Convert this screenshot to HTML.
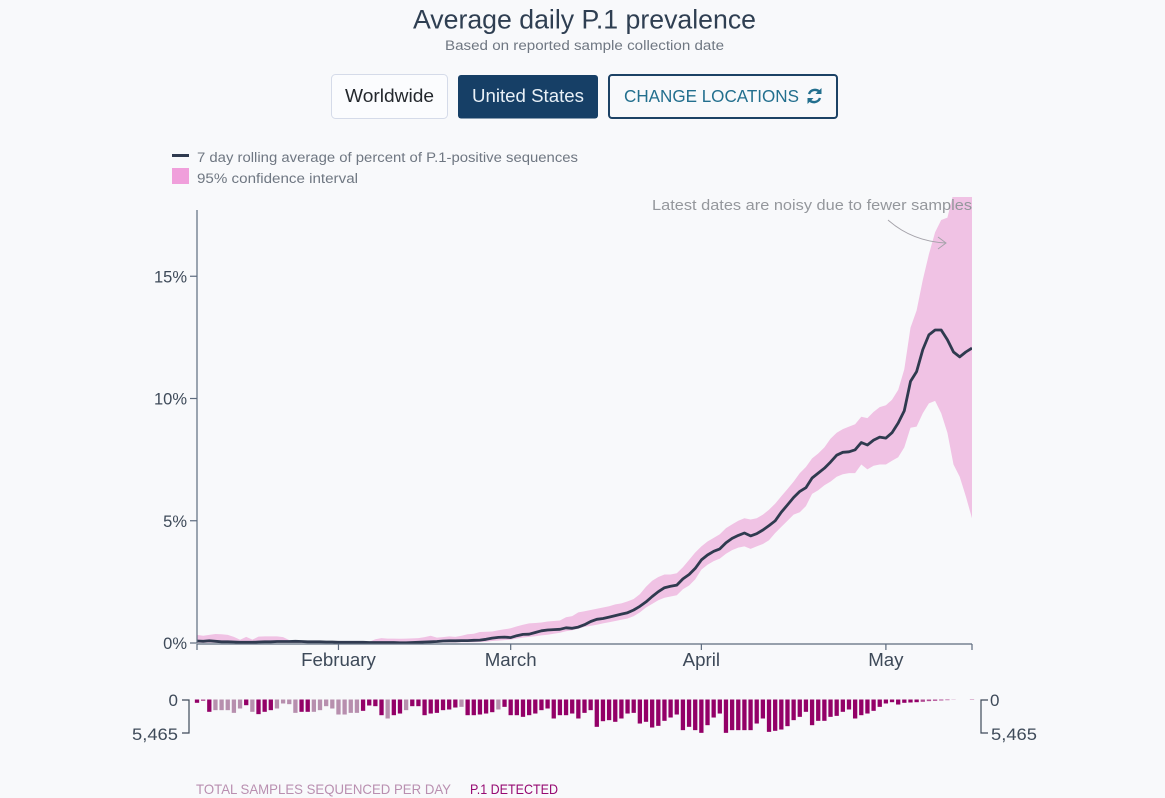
<!DOCTYPE html>
<html lang="en">
<head>
<meta charset="utf-8">
<title>Average daily P.1 prevalence</title>
<style>
html,body{margin:0;padding:0;background:#f8f9fb;}
body{width:1165px;height:798px;overflow:hidden;position:relative;font-family:"Liberation Sans",sans-serif;}
svg{position:absolute;left:0;top:0;display:block;}
text{font-family:"Liberation Sans",sans-serif;}
</style>
</head>
<body>
<svg id="chart" width="1165" height="798" viewBox="0 0 1165 798" xmlns="http://www.w3.org/2000/svg">
  <defs><clipPath id="plot-clip"><rect x="190" y="197" width="782" height="460"/></clipPath></defs>

  <text x="413" y="28.5" font-size="27" fill="#2f3f52" textLength="343" lengthAdjust="spacingAndGlyphs">Average daily P.1 prevalence</text>
  <text x="445" y="50" font-size="13.5" fill="#6f7782" textLength="279" lengthAdjust="spacingAndGlyphs">Based on reported sample collection date</text>

  <g>
    <rect x="331.5" y="74.5" width="116" height="44" rx="4" fill="#fbfcfe" stroke="#d5dbe9"/>
    <text x="345" y="102" font-size="18" fill="#23272c" textLength="89" lengthAdjust="spacingAndGlyphs">Worldwide</text>
  </g>
  <g>
    <rect x="458" y="75" width="140" height="43.5" rx="3" fill="#163f66"/>
    <text x="472" y="102" font-size="18" fill="#e8f0f7" textLength="112" lengthAdjust="spacingAndGlyphs">United States</text>
  </g>
  <g>
    <rect x="609" y="75" width="228" height="43" rx="3" fill="#f8f9fb" stroke="#1c4265" stroke-width="2"/>
    <text x="624" y="102" font-size="17.5" fill="#226f8e" textLength="175" lengthAdjust="spacingAndGlyphs">CHANGE LOCATIONS</text>
    <g fill="none" stroke="#226f8e" stroke-width="2.4">
      <path d="M809 94 a6.3 6.3 0 0 1 11 -1.5"/>
      <path d="M820 98 a6.3 6.3 0 0 1 -11 1.5"/>
      <path d="M821.5 88 v6 h-6 z" fill="#226f8e" stroke="none"/>
      <path d="M807.5 104 v-6 h6 z" fill="#226f8e" stroke="none"/>
    </g>
  </g>

  <g>
    <rect x="172" y="154" width="17" height="3" fill="#2f3a4f"/>
    <text x="197" y="162" font-size="13.5" fill="#6f7782" textLength="381" lengthAdjust="spacingAndGlyphs">7 day rolling average of percent of P.1-positive sequences</text>
    <rect x="172" y="168" width="17" height="16" fill="#f09fdb"/>
    <text x="197" y="183" font-size="13.5" fill="#6f7782" textLength="161" lengthAdjust="spacingAndGlyphs">95% confidence interval</text>
  </g>

  <g id="plot" clip-path="url(#plot-clip)"></g>
  <g id="axes"></g>
  <g id="bars"></g>

  <text x="652" y="210" font-size="15" fill="#94979c" textLength="320" lengthAdjust="spacingAndGlyphs">Latest dates are noisy due to fewer samples</text>
  <g fill="none" stroke="#a5a3aa" stroke-width="1">
    <path d="M888 220 C905 235 925 242 946 243"/>
    <path d="M938 237 L946 243 L938 249"/>
  </g>

  <g fill="none" stroke="#3e4a59" stroke-width="1.2">
    <path d="M182 700 H189 V733 H182"/>
  </g>
  <text x="178" y="706" font-size="17" fill="#3e4a59" text-anchor="end">0</text>
  <text x="132" y="740" font-size="17" fill="#3e4a59" textLength="46" lengthAdjust="spacingAndGlyphs">5,465</text>
  <g fill="none" stroke="#3e4a59" stroke-width="1.2">
    <path d="M988 700 H981 V733 H988"/>
  </g>
  <text x="990" y="706" font-size="17" fill="#3e4a59">0</text>
  <text x="991" y="740" font-size="17" fill="#3e4a59" textLength="46" lengthAdjust="spacingAndGlyphs">5,465</text>

  <text x="196" y="794" font-size="14" fill="#b98fb0" textLength="255" lengthAdjust="spacingAndGlyphs">TOTAL SAMPLES SEQUENCED PER DAY</text>
  <text x="470" y="794" font-size="14" fill="#960a72" textLength="88" lengthAdjust="spacingAndGlyphs">P.1 DETECTED</text>
</svg>

<script>
// Daily values, one per day starting 9 January
const meanPct = [
 .08,.07,.09,.07,.05,.05,.04,.03,.03,.03,
 .04,.05,.05,.06,.06,.06,.07,.06,.05,.05,
 .05,.04,.04,.03,.03,.03,.03,.03,.02,.02,
 .02,.02,.02,.01,.01,.02,.03,.04,.05,.06,
 .08,.09,.09,.10,.10,.11,.12,.15,.20,.23,
 .24,.22,.30,.35,.36,.43,.50,.53,.55,.56,
 .62,.60,.65,.75,.88,.97,1.0,1.06,1.12,1.18,
 1.24,1.35,1.5,1.68,1.9,2.1,2.26,2.32,2.37,2.62,
 2.8,3.05,3.4,3.6,3.75,3.85,4.1,4.28,4.4,4.5,
 4.38,4.47,4.62,4.8,5.0,5.35,5.65,5.95,6.2,6.35,
 6.75,6.95,7.15,7.4,7.68,7.8,7.82,7.9,8.2,8.1,
 8.3,8.42,8.38,8.6,9.0,9.5,10.7,11.1,12.0,12.6,
 12.8,12.8,12.4,11.9,11.7,11.9,12.06
];
const upperPct = [
 .33,.30,.33,.37,.36,.33,.25,.13,.25,.14,
 .26,.27,.27,.27,.24,.12,.10,.09,.09,.08,
 .08,.08,.08,.07,.07,.06,.06,.05,.05,.15,
 .20,.18,.18,.17,.18,.19,.20,.24,.30,.22,
 .24,.27,.25,.30,.36,.38,.45,.46,.47,.52,
 .56,.60,.68,.75,.80,.82,.84,.88,.90,.92,
 1.05,1.1,1.25,1.3,1.35,1.4,1.45,1.5,1.58,1.62,
 1.7,1.8,2.0,2.3,2.55,2.7,2.8,2.8,2.85,3.1,
 3.4,3.7,3.95,4.15,4.3,4.45,4.7,4.85,5.0,5.1,
 5.05,5.1,5.25,5.45,5.7,6.0,6.3,6.6,6.95,7.2,
 7.55,7.75,8.0,8.35,8.6,8.75,8.85,8.95,9.25,9.2,
 9.45,9.65,9.72,9.95,10.35,11.2,12.9,13.6,14.85,15.9,
 16.8,17.3,17.4,18.4,19,19.5,19.8
];
const lowerPct = [
 .01,.01,.01,.01,.01,.01,.01,.01,.01,.01,
 .01,.01,.01,.01,.01,.01,.01,.01,.01,.01,
 .01,.01,.01,.01,.01,.01,.01,.01,.01,.01,
 .01,.01,.01,.01,.01,.01,.01,.01,.01,.01,
 .02,.02,.02,.03,.03,.03,.04,.05,.08,.10,
 .12,.13,.18,.22,.25,.28,.31,.34,.38,.42,
 .48,.52,.58,.66,.7,.75,.8,.85,.9,.95,
 1.0,1.1,1.25,1.45,1.6,1.75,1.85,1.9,1.95,2.2,
 2.35,2.6,3.0,3.2,3.35,3.45,3.65,3.8,3.9,3.95,
 3.85,3.95,4.05,4.2,4.5,4.75,5.0,5.25,5.35,5.6,
 6.1,6.25,6.45,6.6,6.8,6.9,6.95,6.95,7.3,7.1,
 7.25,7.3,7.3,7.45,7.6,8.0,8.8,8.85,9.4,9.8,
 9.9,9.4,8.6,7.3,6.8,6.0,5.1
];
const totalSamples = [
 540,220,2010,1740,1740,1740,2180,1470,930,2010,
 2390,2010,1740,1470,650,760,2180,2010,2010,2010,
 1740,1090,1470,2450,2450,2180,2180,1850,980,1090,
 2560,3100,2560,2290,1740,1090,1090,2560,2290,2180,
 1740,1630,1310,1200,2560,2560,2450,2290,2070,1630,
 1200,2560,2560,2830,2560,2290,1740,1470,3100,2560,
 2560,2290,3100,2180,1740,4460,3540,3370,3640,3100,
 2290,2180,3920,3640,4570,4300,3480,2940,2450,5000,
 4460,5000,5440,4190,2940,2290,5440,5000,5000,5000,
 5000,3920,3100,5280,5110,4900,4350,3370,2830,2010,
 4190,3480,3480,2830,2670,2010,1630,3100,2560,2290,
 1850,1200,650,440,820,540,490,440,380,270,
 220,160,110,30,0,0,60
];
const p1Detected = [
 1,1,2,0,0,0,0,0,1,0,
 1,1,1,0,0,0,0,1,1,0,
 0,0,0,0,0,0,0,1,1,1,
 1,0,1,1,0,1,1,1,2,2,
 2,2,2,0,3,3,3,4,4,0,
 3,6,8,10,9,10,9,8,17,14,
 16,14,20,16,15,43,35,36,41,37,
 28,29,59,61,87,90,79,68,58,131,
 125,153,185,151,110,88,223,214,220,225,
 219,175,143,253,256,262,246,201,175,128,
 283,242,249,209,205,157,127,245,210,185,
 154,101,54,38,74,51,52,49,46,34,
 28,20,14,3,0,0,7
];
const percentTicks = [0, 5, 10, 15];
const percentTickLabels = ['0%', '5%', '10%', '15%'];
const monthTickDays = [23, 51, 82, 112];
const monthTickLabels = ['February', 'March', 'April', 'May'];
const lastDay = 126;
const samplesMax = 5465;

const NS = 'http://www.w3.org/2000/svg';
const xScale = d => 197 + d * (972 - 197) / lastDay;
const yScale = p => 643 - p * 24.45;
const barScale = v => v * 33.5 / samplesMax;

function make(tag, attrs, parent) {
  const el = document.createElementNS(NS, tag);
  for (const k in attrs) el.setAttribute(k, attrs[k]);
  parent.appendChild(el);
  return el;
}

const plot = document.getElementById('plot');
const axes = document.getElementById('axes');
const bars = document.getElementById('bars');

// confidence band
const upperPts = upperPct.map((v, i) => xScale(i).toFixed(1) + ',' + yScale(v).toFixed(1));
const lowerPts = lowerPct.map((v, i) => xScale(i).toFixed(1) + ',' + yScale(v).toFixed(1)).reverse();
const band = make('polygon', {points: upperPts.concat(lowerPts).join(' '), fill: '#f0c2e4'}, plot);



// axes
const yLine = make('line', {x1: 197, x2: 197, y1: 210, y2: yScale(0), stroke: '#5d6b7e', 'stroke-width': 1.2}, axes);


const xLine = make('line', {x1: 197, x2: 972, y1: 644, y2: 644, stroke: '#5d6b7e', 'stroke-width': 1.2}, axes);



percentTicks.forEach((p, i) => {
  const tick = make('line', {x1: 190, x2: 197, y1: yScale(p), y2: yScale(p), stroke: '#5d6b7e', 'stroke-width': 1.2}, axes);
  
  
  const label = make('text', {x: 187, y: yScale(p) + 6, 'font-size': 16.5, fill: '#3e4a59', 'text-anchor': 'end'}, axes);
  label.textContent = percentTickLabels[i];
  
  
});

[0, lastDay].forEach(d => {
  const tick = make('line', {x1: xScale(d), x2: xScale(d), y1: 644, y2: 650, stroke: '#5d6b7e', 'stroke-width': 1.2}, axes);
  
  
});
monthTickDays.forEach((d, i) => {
  const tick = make('line', {x1: xScale(d), x2: xScale(d), y1: 644, y2: 650, stroke: '#5d6b7e', 'stroke-width': 1.2}, axes);
  
  
  const label = make('text', {x: xScale(d), y: 666, 'font-size': 18.7, fill: '#3e4a59', 'text-anchor': 'middle'}, axes);
  label.textContent = monthTickLabels[i];
  
  
});

// rolling average line
const meanPts = meanPct.map((v, i) => xScale(i).toFixed(1) + ',' + yScale(v).toFixed(1)).join(' ');
const meanLine = make('polyline', {points: meanPts, fill: 'none', stroke: '#2f3a4f', 'stroke-width': 2.8, 'stroke-linejoin': 'round'}, plot);



// sample bars
totalSamples.forEach((v, i) => {
  if (v <= 0) return;
  const h = barScale(v);
  const small = v < 400;
  const bar = make('rect', {
    x: xScale(i) - 2.15, y: 699.5, width: 4.3, height: h,
    fill: p1Detected[i] > 0 ? '#930067' : '#b78fae',
    opacity: small ? 0.7 : 1
  }, bars);
  
  
});
</script>
</body>
</html>
